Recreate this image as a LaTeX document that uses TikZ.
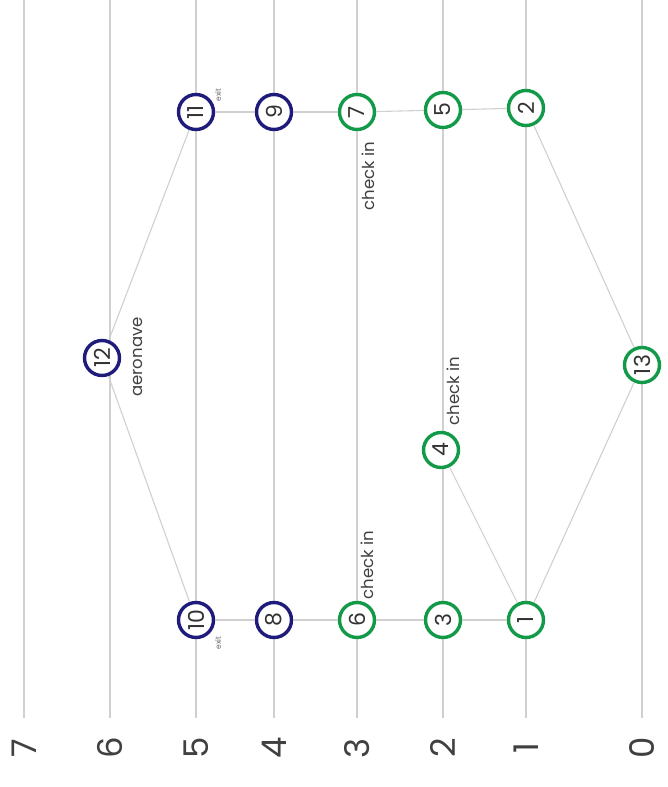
\documentclass[tikz,border=0pt]{standalone}
\usepackage{fontspec}
\setmainfont{Poppins}
\definecolor{ngreen}{HTML}{139A48}
\definecolor{nblue}{HTML}{1E1B7A}
\definecolor{lgrey}{HTML}{D0D0D0}
\begin{document}
\begin{tikzpicture}[x=1pt,y=-1pt,
  lvl/.style={draw=lgrey,line width=1.3pt},
  edge/.style={draw=lgrey,line width=1.1pt},
  st/.style={circle,draw,fill=white,line width=3.4pt,minimum size=35pt,inner sep=0pt,
             rotate=90,font=\fontsize{22}{22}\selectfont,text=black!80},
  gst/.style={st,draw=ngreen},
  bst/.style={st,draw=nblue},
  lvllab/.style={rotate=90,font=\fontsize{34}{34}\selectfont,text=black!75,inner sep=0pt},
  lab/.style={rotate=90,font=\fontsize{16.5}{16.5}\selectfont,text=black!75,inner sep=0pt},
  tiny/.style={rotate=90,font=\fontsize{7.5}{7.5}\selectfont,text=black!60,inner sep=0pt}]
\useasboundingbox (0,0) rectangle (667,787);
% level lines and labels
\foreach \n/\x in {7/24,6/110,5/196,4/274,3/357,2/443,1/526,0/642}{
  \coordinate (t\n) at (\x,0);
  \coordinate (b\n) at (\x,718);
  \draw[lvl] (t\n) -- (b\n);
  \node[lvllab] (L\n) at (\x,748) {\n};
}
% nodes
\node[gst] (n1) at (526,620) {1};
\node[gst] (n3) at (443,620) {3};
\node[gst] (n6) at (357,620) {6};
\node[bst] (n8) at (274,620) {8};
\node[bst] (n10) at (196,620) {10};
\node[gst] (n4) at (441,450) {4};
\node[gst] (n13) at (642,365) {13};
\node[bst] (n12) at (102,358) {12};
\node[gst] (n2) at (526,108) {2};
\node[gst] (n5) at (443,110) {5};
\node[gst] (n7) at (357,112) {7};
\node[bst] (n9) at (274,112) {9};
\node[bst] (n11) at (196,112) {11};
% connectors
\draw[edge] (n1) -- (n3);
\draw[edge] (n3) -- (n6);
\draw[edge] (n6) -- (n8);
\draw[edge] (n8) -- (n10);
\draw[edge] (n2) -- (n5);
\draw[edge] (n5) -- (n7);
\draw[edge] (n7) -- (n9);
\draw[edge] (n9) -- (n11);
\draw[edge] (n1) -- (n4);
\draw[edge] (n1) -- (n13);
\draw[edge] (n13) -- (n2);
\draw[edge] (n10) -- (n12);
\draw[edge] (n12) -- (n11);
% labels
\node[lab] (c7) at (368,176) {check in};
\node[lab] (c6) at (367,565) {check in};
\node[lab] (c4) at (453,391) {check in};
\node[lab] (ae) at (138,357) {aeronave};
\node[tiny] (e11) at (218,95) {exit};
\node[tiny] (e10) at (218,643) {exit};
\end{tikzpicture}
\end{document}
